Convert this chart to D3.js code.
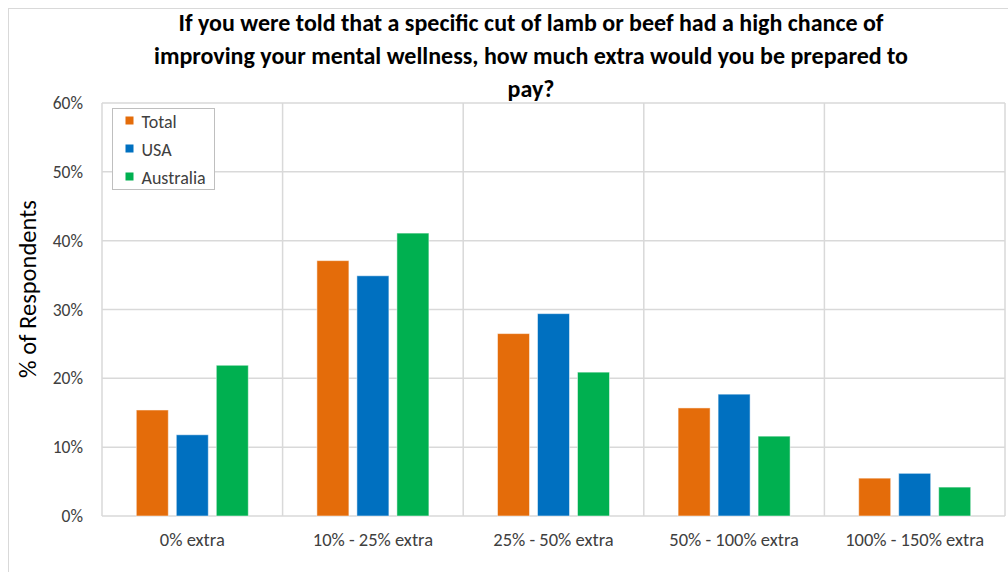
<!DOCTYPE html>
<html>
<head>
<meta charset="utf-8">
<script src="https://cdn.jsdelivr.net/npm/d3@7"></script>
<style>
  body { margin: 0; background: #fff; }
  svg { display: block; }
  text { font-family: Carlito, Lato, "Liberation Sans", sans-serif; }
</style>
</head>
<body>
<div id="chart"></div>
<script>
var categories = ['0% extra', '10% - 25% extra', '25% - 50% extra', '50% - 100% extra', '100% - 150% extra'];
var seriesNames = ['Total', 'USA', 'Australia'];
var totalValues = [15.4, 37.1, 26.5, 15.7, 5.5];
var usaValues = [11.8, 34.9, 29.4, 17.7, 6.2];
var australiaValues = [21.9, 41.1, 20.9, 11.6, 4.2];
var yTicks = [0, 10, 20, 30, 40, 50, 60];
var titleLines = [
    'If you were told that a specific cut of lamb or beef had a high chance of',
    'improving your mental wellness, how much extra would you be prepared to',
    'pay?'
];

var colors = {
    'Total': '#e46c0a',
    'USA': '#0070c0',
    'Australia': '#00b050'
};

var valuesBySeries = {
    'Total': totalValues,
    'USA': usaValues,
    'Australia': australiaValues
};

var width = 1008;
var height = 572;
var margin = { top: 103, right: 3, bottom: 56, left: 102 };
var chart_width = width - margin.left - margin.right;
var chart_height = height - margin.top - margin.bottom;

var svg = d3.select('#chart')
    .append('svg')
    .attr('width', width)
    .attr('height', height);

// outer chart border
svg.append('rect')
    .attr('x', 8.5)
    .attr('y', 8.5)
    .attr('width', width + 10)
    .attr('height', height + 10)
    .attr('fill', 'none')
    .attr('stroke', '#d9d9d9')
    .attr('stroke-width', 1);

// title
svg.append('g')
    .selectAll('text')
    .data(titleLines)
    .enter()
    .append('text')
    .attr('x', 531)
    .attr('y', function (d, i) { return 31 + i * 33; })
    .attr('text-anchor', 'middle')
    .style('font-weight', 'bold')
    .style('font-size', '24px')
    .style('fill', '#000')
    .text(function (d) { return d; });

var g = svg.append('g')
    .attr('transform', 'translate(' + margin.left + ',' + margin.top + ')');

var x0 = d3.scaleBand()
    .domain(categories)
    .range([0, chart_width])
    .padding(0);

var bw = x0.bandwidth();
var x1 = d3.scaleBand()
    .domain(seriesNames)
    .range([bw / 2 - 56, bw / 2 + 56])
    .paddingInner(0.2)
    .paddingOuter(0);

var y = d3.scaleLinear()
    .domain([0, 60])
    .range([chart_height, 0]);

// horizontal gridlines
g.append('g')
    .selectAll('line')
    .data(yTicks)
    .enter()
    .append('line')
    .attr('x1', 0)
    .attr('x2', chart_width)
    .attr('y1', function (d) { return y(d); })
    .attr('y2', function (d) { return y(d); })
    .attr('stroke', '#d9d9d9')
    .attr('stroke-width', 1.5);

// vertical gridlines between categories
var vlines = categories.map(function (c) { return x0(c); }).concat([chart_width]);
g.append('g')
    .selectAll('line')
    .data(vlines)
    .enter()
    .append('line')
    .attr('x1', function (d) { return d; })
    .attr('x2', function (d) { return d; })
    .attr('y1', 0)
    .attr('y2', chart_height)
    .attr('stroke', '#d9d9d9')
    .attr('stroke-width', 1.5);

// y axis labels
var yAxis = d3.axisLeft(y)
    .tickValues(yTicks)
    .tickSize(0)
    .tickPadding(19)
    .tickFormat(function (d) { return d + '%'; });

g.append('g')
    .call(yAxis)
    .call(function (a) { a.select('.domain').remove(); })
    .selectAll('text')
    .style('font-size', '17.5px')
    .style('fill', '#404040')
    .style('font-family', 'Carlito, Lato, sans-serif');

// x axis labels
var xAxis = d3.axisBottom(x0)
    .tickSize(0)
    .tickPadding(17);

g.append('g')
    .attr('transform', 'translate(0,' + chart_height + ')')
    .call(xAxis)
    .call(function (a) { a.select('.domain').remove(); })
    .selectAll('text')
    .style('font-size', '18.5px')
    .style('fill', '#404040')
    .style('font-family', 'Carlito, Lato, sans-serif');

// bars
var groups = g.append('g')
    .selectAll('g')
    .data(categories)
    .enter()
    .append('g')
    .attr('transform', function (d) { return 'translate(' + x0(d) + ',0)'; });

groups.selectAll('rect')
    .data(function (d, i) {
        return seriesNames.map(function (s) {
            return { series: s, value: valuesBySeries[s][i] };
        });
    })
    .enter()
    .append('rect')
    .attr('x', function (d) { return x1(d.series); })
    .attr('width', x1.bandwidth())
    .attr('y', function (d) { return y(d.value); })
    .attr('height', function (d) { return chart_height - y(d.value); })
    .attr('fill', function (d) { return colors[d.series]; })
    .attr('stroke', '#fff')
    .attr('stroke-opacity', 0.5)
    .attr('stroke-width', 1);

// y axis title
svg.append('text')
    .attr('transform', 'translate(36,289) rotate(-90)')
    .attr('text-anchor', 'middle')
    .style('font-size', '24.5px')
    .style('fill', '#000')
    .text('% of Respondents');

// legend
var legend = svg.append('g')
    .attr('transform', 'translate(112.5,108.5)');

legend.append('rect')
    .attr('width', 102)
    .attr('height', 81)
    .attr('fill', '#fff')
    .attr('stroke', '#bfbfbf')
    .attr('stroke-width', 1);

var items = legend.selectAll('.item')
    .data(seriesNames)
    .enter()
    .append('g')
    .attr('class', 'item')
    .attr('transform', function (d, i) { return 'translate(0,' + (13 + i * 28) + ')'; });

items.append('rect')
    .attr('x', 13)
    .attr('y', -5)
    .attr('width', 8)
    .attr('height', 8)
    .attr('fill', function (d) { return colors[d]; });

items.append('text')
    .attr('x', 29)
    .attr('y', 6)
    .style('font-size', '18px')
    .style('fill', '#404040')
    .text(function (d) { return d; });
</script>
</body>
</html>
